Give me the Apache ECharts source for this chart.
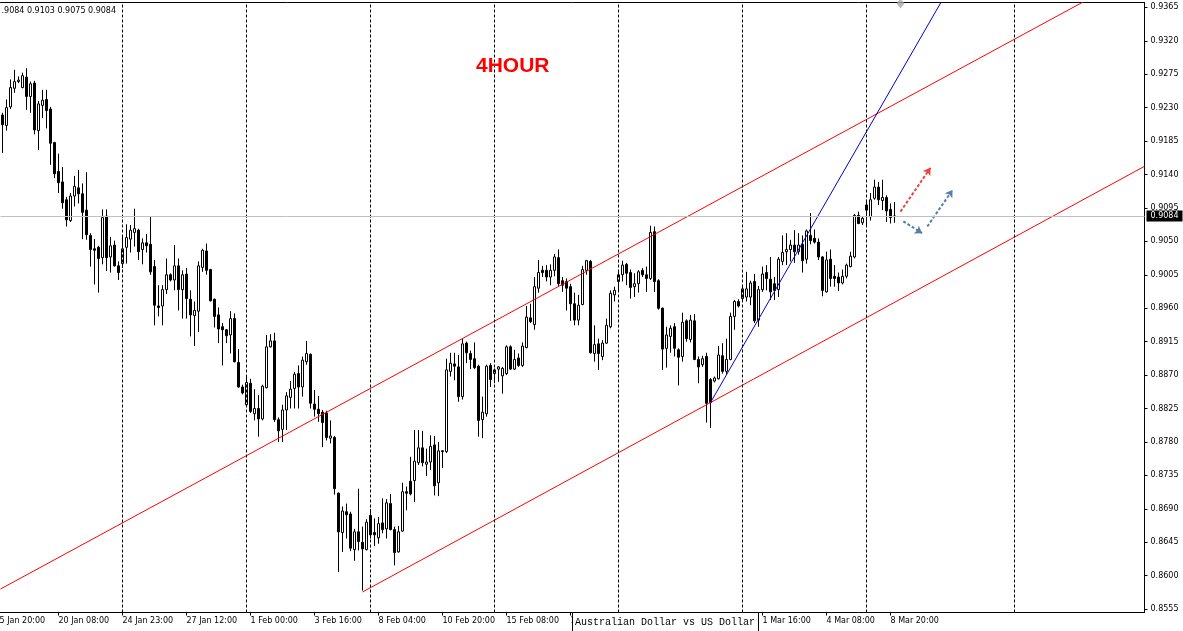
<!DOCTYPE html>
<html>
<head>
<meta charset="utf-8">
<script src="https://cdn.jsdelivr.net/npm/echarts@6/dist/echarts.min.js"></script>
<style>
html,body{margin:0;padding:0;background:#fff;overflow:hidden}
#c{width:1183px;height:631px}
</style>
</head>
<body>
<div id="c"></div>
<script>
// ---------- DATA ----------
const barCount = 286; // 224 candles + empty future space
const opens = [
.9220,.9206,.9231,.9256,.9265,.9257,.9271,.9245,.9263,.9199,.9233,.9241,.9228,.9183,.9144,.9130,.9106,.9078,.9111,.9122,
.9114,.9092,.9058,.9040,.9042,.9028,.9084,.9029,.9045,.9017,.9020,.9042,.9053,.9062,.9065,.9039,.9048,.9046,.9016,.8963,
.8963,.8985,.9005,.8998,.9017,.8985,.9006,.8972,.8950,.8956,.9015,.9037,.9012,.8972,.8951,.8935,.8931,.8924,.8946,.8887,
.8854,.8830,.8859,.8818,.8825,.8811,.8853,.8908,.8916,.8810,.8797,.8823,.8840,.8852,.8872,.8854,.8888,.8898,.8831,.8824,
.8820,.8819,.8785,.8786,.8711,.8658,.8686,.8683,.8635,.8659,.8645,.8635,.8681,.8658,.8651,.8671,.8663,.8697,.8662,.8632,
.8660,.8713,.8727,.8728,.8752,.8772,.8750,.8753,.8776,.8725,.8768,.8767,.8875,.8885,.8881,.8841,.8913,.8899,.8892,.8882,
.8810,.8818,.8883,.8872,.8878,.8869,.8872,.8908,.8878,.8893,.8883,.8907,.8947,.8938,.8987,.9011,.9011,.9002,.9011,.9028,
.8997,.8996,.8989,.8966,.8944,.8965,.9011,.9023,.8899,.8912,.8895,.8913,.8935,.8978,.8996,.9005,.9019,.9008,.8989,.8993,
.9011,.9005,.9000,.9063,.8997,.8960,.8906,.8922,.8935,.8904,.8895,.8943,.8918,.8943,.8891,.8884,.8895,.8864,.8862,.8865,
.8896,.8875,.8891,.8949,.8969,.8973,.8975,.8975,.8996,.8944,.8985,.9008,.8999,.8993,.8985,.9023,.9036,.9039,.9045,.9036,
.9046,.9026,.9058,.9054,.9049,.9029,.8982,.9026,.9003,.9002,.8994,.9003,.9016,.9029,.9085,.9075,.9099,.9083,.9108,.9123,
.9105,.9109,.9093,.9084];
const closes = [
.9207,.9230,.9257,.9265,.9267,.9273,.9245,.9262,.9200,.9235,.9240,.9226,.9182,.9141,.9129,.9102,.9079,.9111,.9124,.9114,
.9089,.9059,.9039,.9038,.9027,.9082,.9028,.9044,.9017,.9008,.9040,.9055,.9065,.9067,.9036,.9048,.9044,.9009,.8964,.8961,
.8985,.9005,.8998,.9017,.8985,.9005,.8973,.8951,.8957,.9017,.9038,.9011,.8970,.8949,.8932,.8931,.8923,.8946,.8888,.8854,
.8846,.8860,.8821,.8825,.8811,.8855,.8908,.8916,.8810,.8795,.8823,.8842,.8851,.8871,.8854,.8890,.8899,.8832,.8824,.8818,
.8806,.8786,.8788,.8717,.8659,.8687,.8682,.8637,.8659,.8646,.8636,.8672,.8655,.8655,.8670,.8662,.8698,.8662,.8631,.8659,
.8713,.8711,.8710,.8754,.8772,.8752,.8753,.8774,.8721,.8768,.8767,.8877,.8886,.8882,.8841,.8912,.8900,.8891,.8880,.8809,
.8820,.8882,.8864,.8877,.8881,.8879,.8908,.8878,.8891,.8883,.8909,.8948,.8942,.8989,.9008,.9008,.9002,.9011,.9029,.8993,
.8991,.8987,.8966,.8944,.8964,.9012,.9024,.8900,.8911,.8899,.8913,.8937,.8980,.8984,.9005,.9018,.9007,.8988,.8993,.9009,
.9005,.9000,.9062,.8996,.8960,.8905,.8924,.8933,.8906,.8894,.8941,.8919,.8944,.8891,.8881,.8892,.8832,.8833,.8866,.8897,
.8875,.8891,.8949,.8969,.8963,.8986,.8986,.8994,.8943,.8985,.9006,.9000,.8982,.8984,.9026,.9035,.9039,.9045,.9036,.9045,
.9024,.9064,.9051,.9049,.9029,.8984,.9025,.9000,.9000,.8994,.9003,.9018,.9030,.9085,.9074,.9081,.9092,.9106,.9123,.9106,
.9109,.9091,.9082,.9084];
const lows = [
.9169,.9199,.9228,.9250,.9263,.9256,.9227,.9223,.9194,.9173,.9216,.9202,.9153,.9135,.9115,.9094,.9070,.9076,.9097,.9101,
.9053,.9052,.9016,.8992,.8981,.9019,.9010,.9008,.9016,.8998,.9014,.9020,.9035,.9043,.9025,.9019,.9035,.9005,.8937,.8949,
.8937,.8979,.8996,.8984,.8957,.8946,.8946,.8922,.8909,.8928,.9009,.9005,.8969,.8934,.8913,.8883,.8913,.8899,.8887,.8853,
.8844,.8829,.8819,.8809,.8787,.8809,.8852,.8907,.8807,.8780,.8780,.8796,.8825,.8825,.8825,.8841,.8884,.8825,.8814,.8807,
.8773,.8782,.8778,.8709,.8605,.8632,.8650,.8633,.8620,.8634,.8580,.8634,.8650,.8640,.8643,.8657,.8650,.8661,.8614,.8631,
.8659,.8688,.8708,.8699,.8749,.8747,.8734,.8742,.8708,.8707,.8745,.8765,.8868,.8863,.8834,.8837,.8886,.8878,.8878,.8787,
.8785,.8814,.8854,.8859,.8861,.8845,.8870,.8877,.8877,.8881,.8881,.8906,.8940,.8931,.8981,.9002,.8996,.8991,.9003,.8990,
.8982,.8957,.8943,.8937,.8937,.8964,.9005,.8899,.8888,.8877,.8890,.8912,.8933,.8969,.8982,.8996,.8991,.8973,.8975,.8981,
.9002,.8982,.8998,.8982,.8958,.8877,.8880,.8900,.8895,.8856,.8888,.8915,.8914,.8890,.8859,.8881,.8806,.8799,.8860,.8864,
.8872,.8871,.8890,.8931,.8961,.8971,.8969,.8964,.8940,.8935,.8982,.8984,.8971,.8971,.8975,.9018,.9018,.9023,.9021,.9032,
.9008,.9020,.9046,.9047,.9025,.8976,.8981,.8989,.8989,.8983,.8992,.9000,.9015,.9027,.9073,.9072,.9072,.9078,.9106,.9099,
.9092,.9076,.9074,.9075];
const highs = [
.9223,.9241,.9268,.9281,.9272,.9277,.9283,.9265,.9266,.9239,.9254,.9254,.9231,.9184,.9168,.9150,.9110,.9115,.9138,.9146,
.9128,.9143,.9061,.9053,.9044,.9093,.9093,.9056,.9051,.9023,.9056,.9073,.9072,.9094,.9067,.9054,.9060,.9084,.9025,.8991,
.8991,.9027,.9007,.9045,.9027,.9011,.9014,.8984,.8969,.9023,.9040,.9047,.9013,.8973,.8961,.8940,.8932,.8956,.8953,.8905,
.8857,.8870,.8865,.8851,.8843,.8857,.8924,.8925,.8927,.8813,.8830,.8847,.8862,.8874,.8883,.8895,.8916,.8899,.8850,.8842,
.8823,.8822,.8809,.8788,.8712,.8693,.8697,.8686,.8663,.8717,.8666,.8676,.8690,.8677,.8679,.8704,.8703,.8710,.8666,.8667,
.8725,.8720,.8760,.8796,.8796,.8795,.8771,.8789,.8788,.8780,.8769,.8892,.8900,.8900,.8897,.8919,.8915,.8903,.8914,.8884,
.8841,.8884,.8886,.8879,.8882,.8881,.8910,.8910,.8904,.8899,.8914,.8963,.8966,.9002,.9025,.9017,.9018,.9019,.9033,.9039,
.9002,.9000,.8993,.8981,.8978,.9017,.9025,.9025,.8937,.8919,.8917,.8946,.8984,.8989,.9009,.9024,.9021,.9012,.9007,.9011,
.9014,.9016,.9071,.9070,.8999,.8961,.8935,.8937,.8940,.8906,.8954,.8945,.8951,.8952,.8895,.8896,.8900,.8866,.8868,.8909,
.8913,.8919,.8954,.8971,.8972,.8991,.9009,.8997,.9006,.8990,.9016,.9018,.9029,.9002,.9029,.9058,.9061,.9052,.9065,.9061,
.9058,.9066,.9088,.9066,.9054,.9030,.9036,.9039,.9018,.9008,.9012,.9020,.9036,.9087,.9090,.9083,.9106,.9115,.9133,.9130,
.9133,.9112,.9101,.9103];

// x-axis time labels (bar index -> text)
const labelBars  = [14, 30, 46, 62, 78, 94, 110, 126, 142, 190, 206, 222];
const labelTexts = ['20 Jan 08:00','24 Jan 23:00','27 Jan 12:00','1 Feb 00:00','3 Feb 16:00','8 Feb 04:00',
                    '10 Feb 20:00','15 Feb 08:00','1','1 Mar 16:00','4 Mar 08:00','8 Mar 20:00'];
const offChartLabel = {bar: -2, text: '15 Jan 20:00'};
// price axis tick labels
const yTicks = [0.8555,0.8600,0.8645,0.8690,0.8735,0.8780,0.8825,0.8870,0.8915,0.8960,
                0.9005,0.9050,0.9095,0.9140,0.9185,0.9230,0.9275,0.9320,0.9365];
const yMin = 0.85504, yMax = 0.93715;
// vertical dashed grid lines (bar index)
const gridBars = [30, 61, 92, 123, 154, 185, 216, 253];
// trend lines: [bar, price] end points
const upperChannel = [[-0.5, 0.8582], [285.5, 0.9417]];
const lowerChannel = [[90, 0.8578], [285.5, 0.9151]];
const blueTrend    = [[177, 0.8833], [240, 0.9422]];
// arrows: [bar, price] from -> to
const redArrow   = [[224.5, 0.9090], [232, 0.9149]];
const slateArrow1 = [[225.2, 0.9077], [229.9, 0.9061]];
const slateArrow2 = [[231.2, 0.9070], [237.5, 0.9119]];
const objectMark = [[224.5, 0.9370]];
const headerText = '.9084 0.9103 0.9075 0.9084';
const symbolName = 'Australian Dollar vs US Dollar';
const chartTitle = '4HOUR';

// ---------- BUILD ----------
const categories = Array.from({length: barCount}, (_, i) => {
  const k = labelBars.indexOf(i);
  return k >= 0 ? labelTexts[k] : '';
});
const candles = opens.map((o, i) => [o, closes[i], lows[i], highs[i]]);
const lastClose = closes[closes.length - 1];
const showAt = (idx) => labelBars.indexOf(idx) >= 0;
const FONT = 'DejaVu Sans';

const chart = echarts.init(document.getElementById('c'), null, {renderer: 'canvas'});
const option = {
  animation: false,
  backgroundColor: '#ffffff',
  title: {
    text: chartTitle, left: 476, top: 56, padding: 0,
    textStyle: {color: '#ff0000', fontSize: 21, fontWeight: 'bold', fontFamily: 'Liberation Sans'}
  },
  grid: {left: 0.5, right: 38.5, top: 2.5, bottom: 18.5, containLabel: false},
  xAxis: [
    {
      type: 'category', data: categories, boundaryGap: true, position: 'bottom',
      axisLine: {show: true, lineStyle: {color: '#000', width: 1}},
      axisTick: {show: true, alignWithLabel: true, length: 3, interval: (i) => showAt(i), lineStyle: {color: '#000'}},
      axisLabel: {show: true, interval: (i) => showAt(i), align: 'left', margin: 4,
                  fontFamily: FONT, fontSize: 8, color: '#000'},
      splitLine: {show: false}
    },
    {
      type: 'value', min: -0.5, max: barCount - 0.5, position: 'top',
      axisLine: {show: true, onZero: false, lineStyle: {color: '#000', width: 1}},
      axisTick: {show: false}, axisLabel: {show: false}, splitLine: {show: false}
    }
  ],
  yAxis: [{
    type: 'value', position: 'right', min: yMin, max: yMax,
    axisLine: {show: true, onZero: false, lineStyle: {color: '#000', width: 1}},
    axisTick: {show: true, length: 3, customValues: yTicks, lineStyle: {color: '#000'}},
    axisLabel: {show: true, customValues: yTicks, formatter: (v) => v.toFixed(4), margin: 6,
                fontFamily: FONT, fontSize: 8, color: '#000'},
    splitLine: {show: false}
  }],
  series: [
    {
      name: 'grid', type: 'scatter', xAxisIndex: 1, yAxisIndex: 0, z: 1, silent: true,
      symbolSize: 0, data: [],
      markLine: {
        silent: true, symbol: ['none', 'none'], label: {show: false}, precision: 4,
        lineStyle: {color: '#000', type: [3, 2], width: 1},
        data: gridBars.map(b => ({xAxis: b}))
      }
    },
    {
      name: 'AUDUSD', type: 'candlestick', xAxisIndex: 0, yAxisIndex: 0, z: 2,
      barWidth: 2, data: candles,
      itemStyle: {color: '#ffffff', color0: '#000000', borderColor: '#000000', borderColor0: '#000000', borderWidth: 1},
      markLine: {
        silent: true, symbol: ['none', 'none'], precision: 4,
        lineStyle: {color: '#c0c0c0', type: 'solid', width: 1},
        label: {show: true, position: 'end', distance: 2, formatter: lastClose.toFixed(4),
                color: '#fff', backgroundColor: '#000', padding: [2, 4, 1, 4],
                fontFamily: FONT, fontSize: 8},
        data: [{yAxis: lastClose}]
      }
    },
    {name: 'upper', type: 'line', xAxisIndex: 1, yAxisIndex: 0, z: 3, silent: true, symbol: 'none',
     data: upperChannel, lineStyle: {color: '#ff0000', width: 1}},
    {name: 'lower', type: 'line', xAxisIndex: 1, yAxisIndex: 0, z: 3, silent: true, symbol: 'none',
     data: lowerChannel, lineStyle: {color: '#ff0000', width: 1}},
    {name: 'trend', type: 'line', xAxisIndex: 1, yAxisIndex: 0, z: 3, silent: true, symbol: 'none',
     data: blueTrend, lineStyle: {color: '#0000cc', width: 1}},
    {
      name: 'arrows', type: 'lines', coordinateSystem: 'cartesian2d', xAxisIndex: 1, yAxisIndex: 0, z: 4,
      silent: true, symbol: ['none', 'arrow'], symbolSize: 7,
      lineStyle: {width: 2, type: [3, 2], opacity: 1},
      data: [
        {coords: redArrow, lineStyle: {color: '#f04040'}},
        {coords: slateArrow1, lineStyle: {color: '#5a7ca6'}},
        {coords: slateArrow2, lineStyle: {color: '#5a7ca6'}}
      ]
    },
    {name: 'object', type: 'scatter', xAxisIndex: 1, yAxisIndex: 0, z: 4, silent: true,
     symbol: 'diamond', symbolSize: [8, 10], itemStyle: {color: '#a8a8a8'}, data: objectMark}
  ]
};
chart.setOption(option);

// extra texts: header, off-chart first date label, symbol description box
const firstX = chart.convertToPixel({xAxisIndex: 1}, offChartLabel.bar);
chart.setOption({
  graphic: [
    {type: 'text', left: 1.5, top: 6.5, z: 100, silent: true,
     style: {text: headerText, fill: '#000', font: '8px "DejaVu Sans"'}},
    {type: 'text', x: firstX, y: 616.5, z: 100, silent: true,
     style: {text: offChartLabel.text, fill: '#000', font: '8px "DejaVu Sans"', textAlign: 'left', textVerticalAlign: 'top'}},
    {type: 'rect', z: 100, silent: true, shape: {x: 572.5, y: 612.5, width: 186, height: 30},
     style: {fill: '#ffffff', stroke: '#000000', lineWidth: 1}},
    {type: 'text', x: 575, y: 622, z: 101, silent: true,
     style: {text: symbolName, fill: '#000', font: '10px "Liberation Mono"', textAlign: 'left', textVerticalAlign: 'middle'}}
  ]
});
</script>
</body>
</html>
